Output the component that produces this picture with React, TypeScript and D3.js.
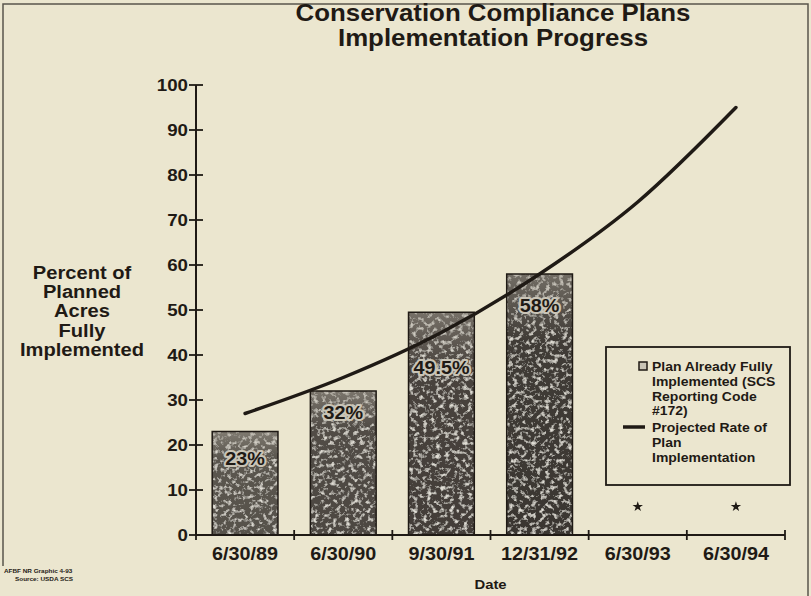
import React from 'react';
import * as d3 from 'd3';

const categories = ['6/30/89', '6/30/90', '9/30/91', '12/31/92', '6/30/93', '6/30/94'];
const implementedPct = [23, 32, 49.5, 58];
const barLabels = ['23%', '32%', '49.5%', '58%'];
const projectedPct = [27, 35, 45, 58, 74, 95];
const pendingCategories = ['6/30/93', '6/30/94'];
const pendingValue = 6.3;
const yTicks = [0, 10, 20, 30, 40, 50, 60, 70, 80, 90, 100];
const titleLines = ['Conservation Compliance Plans', 'Implementation Progress'];
const yLabelLines = ['Percent of', 'Planned', 'Acres', 'Fully', 'Implemented'];
const legendBarLines = ['Plan Already Fully', 'Implemented (SCS', 'Reporting Code', '#172)'];
const legendLineLines = ['Projected Rate of', 'Plan', 'Implementation'];
const footLines = ['AFBF NR Graphic 4-93', 'Source: USDA SCS'];

const W = 811;
const H = 596;
const FONT = '"Liberation Sans", Arial, Helvetica, sans-serif';
const INK = '#1f1a15';
const BG = '#ebe6cf';
const SX = 1.1;
const barFills = ['#4d4843', '#423d38', '#38332f', '#2f2b27'];
const labelDrop = [27, 21, 55, 31];
const footX = [4, 15];

type TProps = {
  x: number;
  y: number;
  size: number;
  anchor?: 'start' | 'middle' | 'end';
  children: React.ReactNode;
  halo?: string;
};

function T({ x, y, size, anchor = 'start', children, halo }: TProps) {
  return (
    <text
      transform={`translate(${x},${y}) scale(${SX},1)`}
      textAnchor={anchor}
      fontSize={size}
      fontWeight="bold"
      fill={INK}
      stroke={halo}
      strokeWidth={halo ? 4 : 0}
      strokeLinejoin="round"
      paintOrder="stroke"
    >
      {children}
    </text>
  );
}

export default function App() {
  const x = d3.scaleBand<string>().domain(categories).range([196, 785]).paddingInner(0.33).paddingOuter(0.165);
  const y = d3.scaleLinear().domain([0, 100]).range([535, 85]);
  const step = x.step();
  const x0 = 196;
  const xEnd = 785;
  const cx = (c: string) => (x(c) as number) + x.bandwidth() / 2;

  const line = d3
    .line<number>()
    .x((_, i) => cx(categories[i]))
    .y((d) => y(d))
    .curve(d3.curveMonotoneX);

  const boundaries = d3.range(categories.length + 1).map((i) => x0 + i * step);
  const star = d3.symbol().type(d3.symbolStar).size(34)();

  return (
    <svg width={W} height={H} style={{ position: 'absolute', left: 0, top: 0, display: 'block' }} fontFamily={FONT}>
      <defs>
        <filter id="grain" x="0" y="0" width="100%" height="100%" filterUnits="objectBoundingBox">
          <feTurbulence type="fractalNoise" baseFrequency="0.22" numOctaves="3" seed="11" result="noise" />
          <feColorMatrix
            in="noise"
            type="matrix"
            values="0 0 0 0 0.80  0 0 0 0 0.78  0 0 0 0 0.72  3.4 0 0 0 -1.75"
            result="spots"
          />
          <feComposite in="spots" in2="SourceGraphic" operator="in" result="clipped" />
          <feMerge>
            <feMergeNode in="SourceGraphic" />
            <feMergeNode in="clipped" />
          </feMerge>
        </filter>
        <linearGradient id="barShade" x1="0" y1="0" x2="0" y2="1">
          <stop offset="0" stopColor="#a9a397" stopOpacity={0.55} />
          <stop offset="0.25" stopColor="#a9a397" stopOpacity={0.15} />
          <stop offset="1" stopColor="#a9a397" stopOpacity={0.1} />
        </linearGradient>
      </defs>
      <rect x={0} y={0} width={W} height={H} fill={BG} />
      {/* frame */}
      <path d={`M3,566 V4 H808 V596`} fill="none" stroke="#5a554c" strokeWidth={1.5} />

      {/* title */}
      {titleLines.map((t, i) => (
        <T key={t} x={493} y={21 + i * 25} size={23.5} anchor="middle">
          {t}
        </T>
      ))}

      {/* y axis label */}
      {yLabelLines.map((t, i) => (
        <T key={t} x={82} y={279 + i * 19.2} size={18.3} anchor="middle">
          {t}
        </T>
      ))}

      {/* bars */}
      {implementedPct.map((v, i) => (
        <g key={categories[i]}>
          <rect
            x={x(categories[i])}
            y={y(v)}
            width={x.bandwidth()}
            height={y(0) - y(v)}
            fill={barFills[i]}
            filter="url(#grain)"
          />
          <rect
            x={x(categories[i])}
            y={y(v)}
            width={x.bandwidth()}
            height={y(0) - y(v)}
            fill="url(#barShade)"
            stroke={INK}
            strokeWidth={1.5}
          />
        </g>
      ))}

      {/* bar labels */}
      {implementedPct.map((v, i) => (
        <T key={barLabels[i]} x={cx(categories[i])} y={y(v) + labelDrop[i] + 6.5} size={18} anchor="middle" halo="#c9c4b6">
          {barLabels[i]}
        </T>
      ))}

      {/* projected line */}
      <path d={line(projectedPct) || ''} fill="none" stroke={INK} strokeWidth={3.5} strokeLinecap="round" />

      {/* pending marks */}
      {pendingCategories.map((c) => (
        <path key={c} d={star || ''} transform={`translate(${cx(c)},${y(pendingValue)})`} fill={INK} />
      ))}

      {/* y axis */}
      <line x1={x0} x2={x0} y1={y(100)} y2={y(0)} stroke={INK} strokeWidth={2} />
      {yTicks.map((t) => (
        <g key={t}>
          <line x1={x0 - 7} x2={x0 + 7} y1={y(t)} y2={y(t)} stroke={INK} strokeWidth={1.8} />
          <T x={188} y={y(t) + 6} size={17} anchor="end">
            {t}
          </T>
        </g>
      ))}

      {/* x axis */}
      <line x1={x0} x2={xEnd} y1={y(0)} y2={y(0)} stroke={INK} strokeWidth={2} />
      {boundaries.map((b, i) => (
        <line key={i} x1={b} x2={b} y1={y(0) - 5} y2={y(0) + 5} stroke={INK} strokeWidth={1.8} />
      ))}
      {categories.map((c) => (
        <T key={c} x={cx(c)} y={560} size={18} anchor="middle">
          {c}
        </T>
      ))}
      <T x={(x0 + xEnd) / 2} y={589} size={13.5} anchor="middle">
        Date
      </T>

      {/* legend */}
      <rect x={606} y={347} width={184} height={138} fill="none" stroke={INK} strokeWidth={1.8} />
      <rect x={639} y={362} width={8} height={8} fill="#c9c4b5" stroke={INK} strokeWidth={1.5} />
      {legendBarLines.map((t, i) => (
        <T key={t} x={652} y={371 + i * 14.8} size={12.7}>
          {t}
        </T>
      ))}
      <line x1={623} x2={645} y1={427} y2={427} stroke={INK} strokeWidth={3.5} />
      {legendLineLines.map((t, i) => (
        <T key={t} x={652} y={432 + i * 15.2} size={12.7}>
          {t}
        </T>
      ))}

      {/* footnote */}
      {footLines.map((t, i) => (
        <T key={t} x={footX[i]} y={573 + i * 7.5} size={5.8}>
          {t}
        </T>
      ))}
    </svg>
  );
}
